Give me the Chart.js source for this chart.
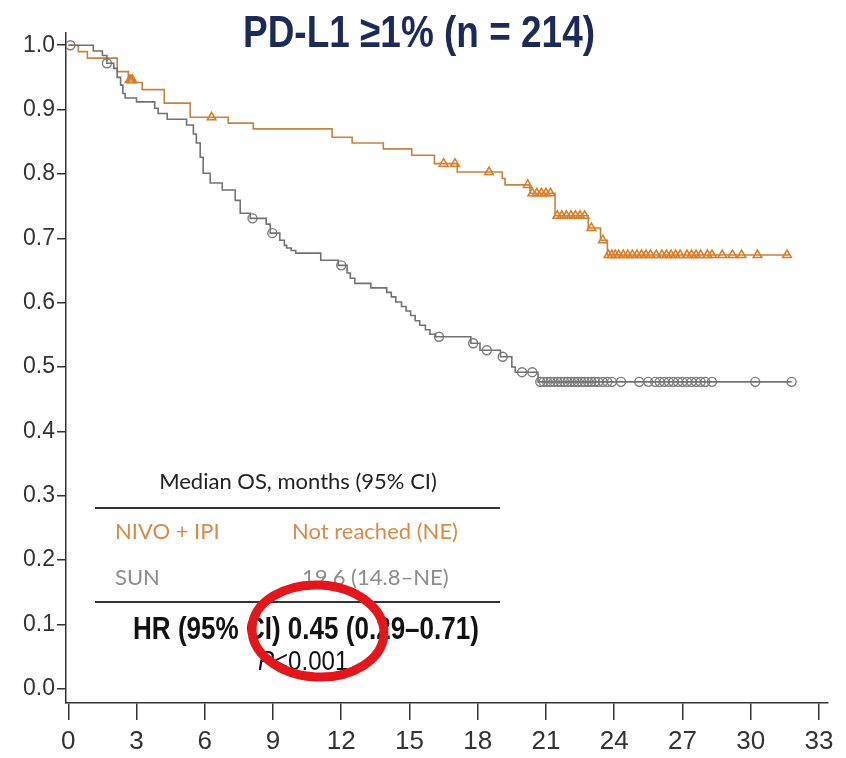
<!DOCTYPE html>
<html>
<head>
<meta charset="utf-8">
<script src="https://cdn.jsdelivr.net/npm/chart.js@4"></script>
<style>
  body { margin: 0; background: #fff; }
  canvas { display: block; }
</style>
</head>
<body>
<canvas id="km" width="846" height="758"></canvas>
<script>
// axis ticks
const xTickLabels = [0, 3, 6, 9, 12, 15, 18, 21, 24, 27, 30, 33];
const yTickLabels = [0, 0.1, 0.2, 0.3, 0.4, 0.5, 0.6, 0.7, 0.8, 0.9, 1.0];

// NIVO + IPI: step times (months) and survival after each step
const nivoTimes = [0, 0.44, 0.84, 2.15, 2.64, 2.9, 3.25, 4.22, 5.36, 7.03, 8.13, 11.6, 12.48, 13.85, 15.1, 16.1, 17.1, 19.08, 19.2, 20.3, 21.4, 22.86, 23.4, 23.7, 31.7];
const nivoSurv = [1.0, 0.990, 0.980, 0.959, 0.946, 0.942, 0.931, 0.910, 0.888, 0.879, 0.870, 0.857, 0.848, 0.839, 0.829, 0.816, 0.803, 0.793, 0.783, 0.770, 0.735, 0.716, 0.697, 0.674, 0.674];
const nivoCensored = [2.7, 2.76, 2.82, 6.3, 16.5, 17.0, 18.5, 20.2, 20.4, 20.6, 20.8, 21.0, 21.2, 21.5, 21.7, 21.9, 22.1, 22.3, 22.5, 22.7, 23.0, 23.5, 23.75, 23.9, 24.05, 24.2, 24.4, 24.6, 24.8, 25.0, 25.2, 25.4, 25.6, 25.85, 26.1, 26.3, 26.5, 26.7, 26.9, 27.2, 27.4, 27.6, 27.8, 28.1, 28.3, 28.75, 29.2, 29.6, 30.3, 31.6];

// SUN
const sunTimes = [0, 1.1, 1.5, 1.7, 2.0, 2.15, 2.3, 2.4, 2.5, 3.0, 3.8, 3.95, 4.35, 5.2, 5.5, 5.63, 5.8, 5.93, 6.24, 6.77, 7.34, 7.56, 8.0, 8.7, 8.88, 9.3, 9.5, 9.6, 9.8, 10.0, 11.1, 11.87, 12.26, 12.4, 12.6, 13.3, 14.0, 14.2, 14.4, 14.65, 14.85, 15.05, 15.25, 15.45, 15.7, 15.9, 16.15, 17.7, 18.1, 19.0, 19.5, 19.65, 20.65, 31.8];
const sunSurv = [1.0, 0.991, 0.984, 0.972, 0.964, 0.950, 0.938, 0.925, 0.918, 0.912, 0.902, 0.894, 0.885, 0.876, 0.862, 0.848, 0.826, 0.801, 0.786, 0.775, 0.759, 0.739, 0.731, 0.722, 0.708, 0.697, 0.689, 0.685, 0.681, 0.677, 0.666, 0.658, 0.646, 0.638, 0.630, 0.623, 0.616, 0.609, 0.601, 0.594, 0.587, 0.580, 0.572, 0.565, 0.558, 0.551, 0.547, 0.537, 0.526, 0.516, 0.500, 0.492, 0.477, 0.477];
const sunCensored = [0.09, 1.7, 8.1, 8.97, 12.0, 16.3, 17.8, 18.4, 19.1, 19.95, 20.4, 20.75, 20.9, 21.05, 21.2, 21.35, 21.5, 21.65, 21.8, 21.95, 22.1, 22.25, 22.4, 22.55, 22.7, 22.85, 23.0, 23.15, 23.3, 23.5, 23.7, 23.9, 24.3, 25.1, 25.5, 25.8, 26.0, 26.2, 26.4, 26.6, 26.8, 27.0, 27.2, 27.4, 27.6, 27.8, 28.0, 28.3, 30.2, 31.8];

const orangeLine = '#c9813f';
const orangeMark = '#e07a1c';
const grayLine = '#727272';
const grayMark = '#7c7c7c';
const arial = '"Liberation Sans", Arial, sans-serif';

function toPoints(times, surv) {
    return times.map((t, i) => ({ x: t, y: surv[i] }));
}

// survival value of the step curve at time t (censor marks sit on the curve)
function survAt(times, surv, t) {
    let s = surv[0];
    for (let i = 0; i < times.length; i++) {
        if (times[i] <= t) s = surv[i];
    }
    return s;
}

function censorPoints(cens, times, surv) {
    return cens.map(t => ({ x: t, y: survAt(times, surv, t) }));
}

// text squeezed horizontally, the source slide uses a narrow face
function narrowText(ctx, text, x, y, font, align, sx) {
    ctx.save();
    ctx.font = font;
    ctx.textAlign = align;
    ctx.translate(x, y);
    ctx.scale(sx, 1);
    ctx.fillText(text, 0, 0);
    const w = ctx.measureText(text).width * sx;
    ctx.restore();
    return w;
}

const overlay = {
    id: 'overlay',
    afterDraw(chart) {
        const ctx = chart.ctx;
        ctx.save();
        // title
        ctx.fillStyle = '#1c2a5a';
        ctx.textBaseline = 'alphabetic';
        narrowText(ctx, 'PD-L1 \u22651% (n = 214)', 419, 47, 'bold 44px ' + arial, 'center', 0.84);

        // median table
        ctx.textBaseline = 'middle';
        ctx.font = '22px Lato, "Open Sans", sans-serif';
        ctx.textAlign = 'center';
        ctx.fillStyle = '#222';
        ctx.fillText('Median OS, months (95% CI)', 298, 482);

        ctx.strokeStyle = '#333';
        ctx.lineWidth = 2;
        ctx.beginPath();
        ctx.moveTo(95, 508); ctx.lineTo(500, 508);
        ctx.moveTo(95, 602); ctx.lineTo(500, 602);
        ctx.stroke();

        ctx.textAlign = 'left';
        ctx.fillStyle = '#d98a48';
        ctx.fillText('NIVO + IPI', 115, 532);
        ctx.fillText('Not reached (NE)', 292, 532);
        ctx.fillStyle = '#8c8c8c';
        ctx.fillText('SUN', 115, 578);
        ctx.fillText('19.6 (14.8\u2013NE)', 302, 578);

        ctx.fillStyle = '#111';
        narrowText(ctx, 'HR (95% CI) 0.45 (0.29\u20130.71)', 306, 630, 'bold 31px ' + arial, 'center', 0.84);

        const pw = narrowText(ctx, 'P', 258, 662, 'italic 28px ' + arial, 'left', 0.86);
        narrowText(ctx, '<0.001', 258 + pw, 662, '28px ' + arial, 'left', 0.86);

        // red highlight ellipse
        ctx.strokeStyle = '#e3161c';
        ctx.lineWidth = 9;
        ctx.beginPath();
        ctx.ellipse(318, 631, 66, 46, 0.05, 0, Math.PI * 2);
        ctx.stroke();
        ctx.restore();
    }
};

new Chart(document.getElementById('km').getContext('2d'), {
    type: 'line',
    data: {
        datasets: [
            {
                label: 'SUN',
                data: toPoints(sunTimes, sunSurv),
                stepped: 'before',
                borderColor: grayLine,
                borderWidth: 1.6,
                pointRadius: 0,
                fill: false
            },
            {
                label: 'SUN censored',
                data: censorPoints(sunCensored, sunTimes, sunSurv),
                showLine: false,
                pointStyle: 'circle',
                pointRadius: 4.5,
                pointBorderColor: grayMark,
                pointBackgroundColor: 'rgba(255,255,255,0)',
                pointBorderWidth: 1.4
            },
            {
                label: 'NIVO + IPI',
                data: toPoints(nivoTimes, nivoSurv),
                stepped: 'before',
                borderColor: orangeLine,
                borderWidth: 1.6,
                pointRadius: 0,
                fill: false
            },
            {
                label: 'NIVO + IPI censored',
                data: censorPoints(nivoCensored, nivoTimes, nivoSurv),
                showLine: false,
                pointStyle: 'triangle',
                pointRadius: 5,
                pointBorderColor: orangeMark,
                pointBackgroundColor: 'rgba(255,255,255,0)',
                pointBorderWidth: 1.5
            }
        ]
    },
    options: {
        responsive: false,
        animation: false,
        layout: { padding: { top: 33, right: 18, left: 0, bottom: 0 } },
        plugins: {
            legend: { display: false },
            tooltip: { enabled: false }
        },
        scales: {
            x: {
                type: 'linear',
                min: -0.1,
                max: 33.4,
                afterBuildTicks: s => { s.ticks = xTickLabels.map(v => ({ value: v })); },
                afterFit: s => { s.height = 55; },
                grid: { drawOnChartArea: false, tickLength: 17, color: '#333', lineWidth: 1.5 },
                border: { color: '#333', width: 1.5 },
                ticks: { font: { family: arial, size: 26 }, color: '#333', padding: 6, maxRotation: 0 }
            },
            y: {
                type: 'linear',
                min: -0.022,
                max: 1.019,
                afterBuildTicks: s => { s.ticks = yTickLabels.map(v => ({ value: v })); },
                afterFit: s => { s.width = 66; },
                grid: { drawOnChartArea: false, tickLength: 9, color: '#333', lineWidth: 1.5 },
                border: { color: '#333', width: 1.5 },
                ticks: { font: { family: arial, size: 23 }, color: '#333', padding: 2, callback: v => v.toFixed(1) }
            }
        }
    },
    plugins: [overlay]
});
</script>
</body>
</html>
